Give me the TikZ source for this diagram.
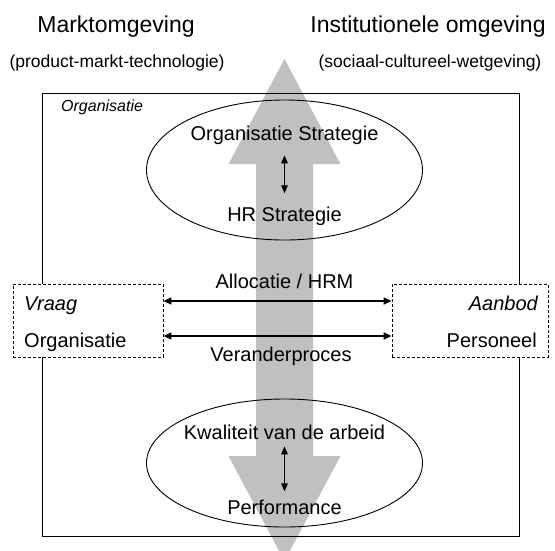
\documentclass[tikz,border=0pt]{standalone}
\usepackage{fontspec}
\setmainfont{Liberation Sans}
\usetikzlibrary{arrows.meta,shapes.geometric}
\definecolor{flowgray}{RGB}{192,192,192}
\tikzset{
  title/.style={inner sep=0pt, anchor=base, font=\fontsize{23}{27}\selectfont},
  subtitle/.style={inner sep=0pt, anchor=base, font=\fontsize{17.5}{21}\selectfont},
  body/.style={inner sep=0pt, anchor=base, font=\fontsize{20}{24}\selectfont},
  orgframe/.style={draw=black, line width=1pt},
  oval/.style={draw=black, line width=0.9pt, ellipse, inner sep=0pt},
  dashbox/.style={draw=black, fill=white, line width=0.8pt, dash pattern=on 3pt off 2pt, inner sep=0pt},
  harrow/.style={line width=1.5pt, {Triangle[length=8pt,width=7pt]}-{Triangle[length=8pt,width=7pt]}},
  varrow/.style={line width=1.3pt, {Triangle[length=8pt,width=6.5pt]}-{Triangle[length=8pt,width=6.5pt]}}
}
\begin{document}
\begin{tikzpicture}[x=1pt,y=-1pt]
\useasboundingbox (0,0) rectangle (555,550);

% broad two-way flow through the organisation
\fill[flowgray] (284.5,59) -- (340.5,164) -- (313,164) -- (313,456) -- (340.5,456)
  -- (284.5,561) -- (228.5,456) -- (256,456) -- (256,164) -- (228.5,164) -- cycle;

% environments
\node[title] (markt) at (116,32) {Marktomgeving};
\node[subtitle] (marktsub) at (117,67) {(product-markt-technologie)};
\node[title] (inst) at (428,32) {Institutionele omgeving};
\node[subtitle] (instsub) at (430,67) {(sociaal-cultureel-wetgeving)};

% organisation frame
\node[orgframe, minimum width=477pt, minimum height=443pt, inner sep=0pt] (org) at (280.5,314.5) {};
\node[inner sep=0pt, anchor=base west, font=\fontsize{16}{19}\selectfont\itshape] (orglabel) at (61,111) {Organisatie};

% strategy and result ellipses
\node[oval, minimum width=276pt, minimum height=140pt] (topell) at (284.5,170) {};
\node[oval, minimum width=276pt, minimum height=128pt] (botell) at (284.5,463) {};

\node[body] (orgstrat) at (284.5,140) {Organisatie Strategie};
\node[body] (hrstrat) at (284.5,221) {HR Strategie};
\node[body] (kwal) at (284.5,439) {Kwaliteit van de arbeid};
\node[body] (perf) at (284.5,514) {Performance};

\draw[varrow, shorten <=11pt, shorten >=13pt] (orgstrat.south) -- (hrstrat.north);
\draw[varrow, shorten <=7pt, shorten >=8pt] (kwal.south) -- (perf.north);

% demand and supply
\node[dashbox, minimum width=150pt, minimum height=73pt] (vraagbox) at (88,320.5) {};
\node[dashbox, minimum width=156pt, minimum height=73pt] (aanbodbox) at (470,320.5) {};

\node[body, anchor=base west, font=\fontsize{20}{24}\selectfont\itshape] (vraag) at (24,310) {Vraag};
\node[body, anchor=base west] (vraagorg) at (24,347) {Organisatie};
\node[body, anchor=base east, font=\fontsize{20}{24}\selectfont\itshape] (aanbod) at (538,310) {Aanbod};
\node[body, anchor=base east] (pers) at (537,347) {Personeel};

\node[body] (allo) at (284.5,288) {Allocatie / HRM};
\node[body] (verander) at (281,361) {Veranderproces};

\coordinate (yallo) at (0,301);
\coordinate (yver) at (0,336);
\draw[harrow] (vraagbox.east |- yallo) -- (aanbodbox.west |- yallo);
\draw[harrow] (vraagbox.east |- yver) -- (aanbodbox.west |- yver);
\end{tikzpicture}
\end{document}
